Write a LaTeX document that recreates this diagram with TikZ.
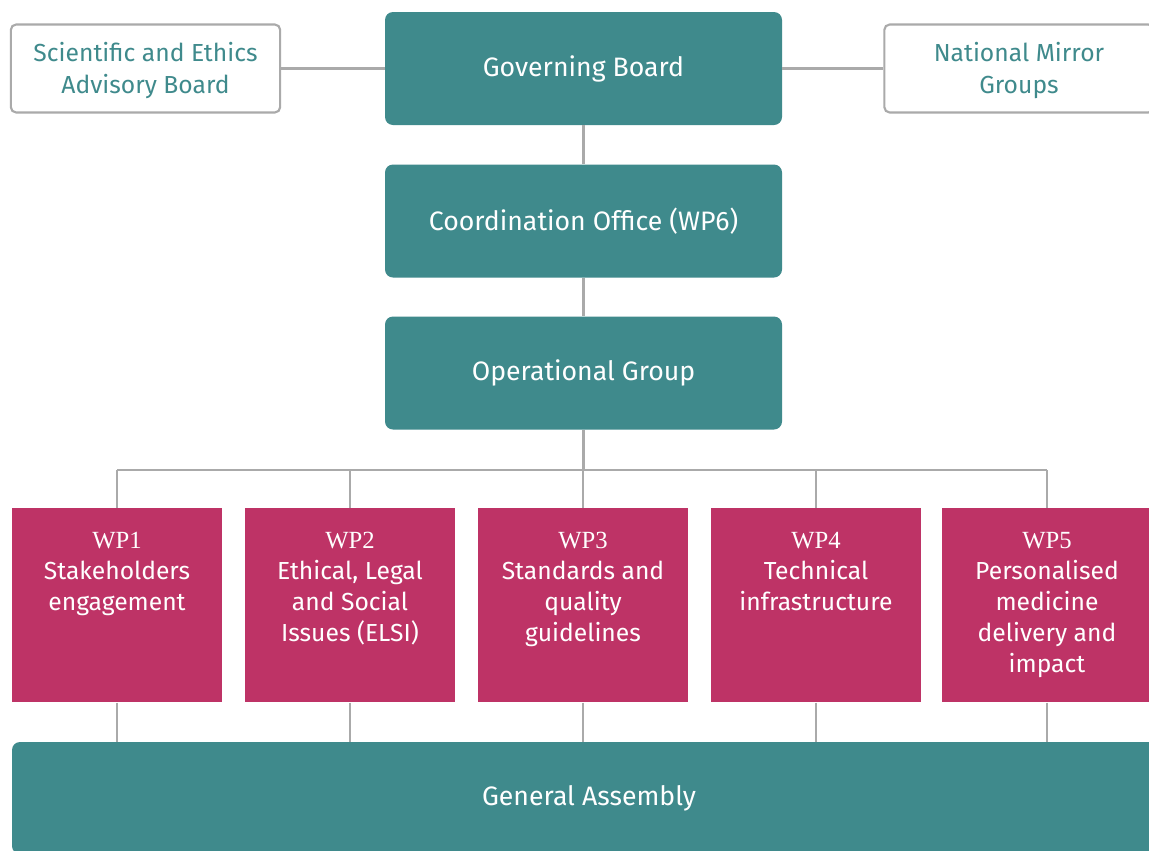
\documentclass[tikz,border=0pt]{standalone}
\usepackage{fontspec}
\setmainfont{Fira Sans}
\newfontfamily\wpfont{Liberation Serif}
\usepackage{tikz}
\usetikzlibrary{positioning}
\definecolor{boardteal}{HTML}{3F8A8C}
\definecolor{wpmagenta}{HTML}{BE3366}
\definecolor{linkgray}{HTML}{AAAAAA}
\newcommand{\wplabel}[2]{\parbox[c][109.5pt][t]{150pt}{\centering\fontsize{18.5}{23.25}\selectfont{\wpfont #1}\\#2}}

\begin{document}
\begin{tikzpicture}[x=0.75pt,y=-0.75pt,
  board/.style={rectangle,rounded corners=6pt,fill=boardteal,text=white,minimum width=297.75pt,minimum height=84.75pt,align=center,font=\fontsize{20}{23}\selectfont},
  side/.style={rectangle,rounded corners=4pt,draw=linkgray,line width=1.6pt,fill=white,text=boardteal,minimum width=202pt,minimum height=66pt,align=center,font=\fontsize{18.5}{24}\selectfont},
  wp/.style={rectangle,fill=wpmagenta,text=white,minimum width=157.5pt,minimum height=145.5pt,inner xsep=0pt,inner ysep=18pt,anchor=north},
  link/.style={draw=linkgray,line width=1.6pt}]
\clip (0,0) rectangle (1149,850);
\fill[white] (0,0) rectangle (1149,850);

\node[board] (gov) at (583.5,68.5) {Governing Board};
\node[board] (coord) at (583.5,221) {Coordination Office (WP6)};
\node[board] (oper) at (583.5,373) {Operational Group};
\node[side] (sci) at (145.5,68.5) {\strut Scientific and Ethics\\Advisory Board};
\node[side] (nat) at (1019,68.5) {\strut National Mirror\\Groups};

\node[wp] (wp1) at (117,508) {\wplabel{WP1}{Stakeholders\\engagement}};
\node[wp] (wp2) at (350,508) {\wplabel{WP2}{Ethical, Legal\\and Social\\Issues (ELSI)}};
\node[wp] (wp3) at (583,508) {\wplabel{WP3}{Standards and\\quality\\guidelines}};
\node[wp] (wp4) at (816,508) {\wplabel{WP4}{Technical\\infrastructure}};
\node[wp] (wp5) at (1047,508) {\wplabel{WP5}{Personalised\\medicine\\delivery and\\impact}};

\node[board,minimum width=865.5pt,minimum height=84pt] (ga) at (589,798) {General Assembly};

\coordinate (bus) at (583.5,470);
\draw[link] (sci) -- (gov);
\draw[link] (gov) -- (nat);
\draw[link] (gov) -- (coord);
\draw[link] (coord) -- (oper);
\draw[link] (oper) -- (bus);
\draw[link] (wp1.north |- bus) -- (wp5.north |- bus);
\foreach \i in {1,...,5}{
  \draw[link] (wp\i.north) -- (wp\i.north |- bus);
  \draw[link] (wp\i.south) -- (wp\i.south |- ga.north);
}

\end{tikzpicture}
\end{document}
